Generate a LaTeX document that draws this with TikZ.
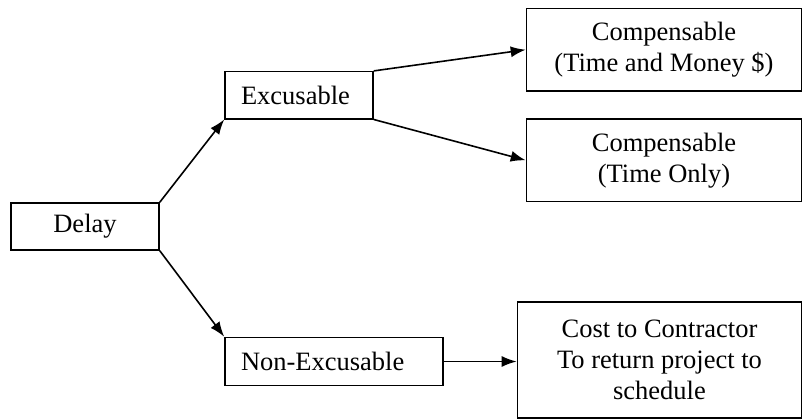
\documentclass[tikz,border=0pt]{standalone}
\usepackage{fontspec}
\setmainfont{Liberation Serif}
\usetikzlibrary{arrows.meta}
\tikzset{
  box/.style={draw,line width=1.6pt,inner sep=0pt,align=center,
    font=\fontsize{26.5}{31}\selectfont},
  leftbox/.style={box,align=left,inner xsep=16pt}
}
\begin{document}
\begin{tikzpicture}[x=1pt,y=-1pt,>={Latex[length=15pt,width=11pt]},line width=1.6pt]
\useasboundingbox (0,0) rectangle (803,420);
\node[box,minimum width=148pt,minimum height=47pt] (delay) at (85,226.5) {Delay};
\node[leftbox,text width=116pt,minimum height=47pt] (exc) at (299,95.2) {Excusable};
\node[leftbox,text width=186pt,minimum height=48pt] (nonexc) at (334,361.5) {Non-Excusable};
\node[box,minimum width=275pt,minimum height=82.5pt] (money) at (664,49.7) {Compensable\\(Time and Money \$)};
\node[box,minimum width=275pt,minimum height=82.5pt] (timeonly) at (664,160.3) {Compensable\\(Time Only)};
\node[box,minimum width=284pt,minimum height=116.5pt] (cost) at (659.5,360) {Cost to Contractor\\To return project to\\schedule};
\draw[->] (delay.north east) -- (exc.south west);
\draw[->] (delay.south east) -- (nonexc.north west);
\draw[->] (exc.north east) -- (money.west);
\draw[->] (exc.south east) -- (timeonly.west);
\draw[->] (nonexc.east) -- (nonexc.east -| cost.west);
\end{tikzpicture}
\end{document}
